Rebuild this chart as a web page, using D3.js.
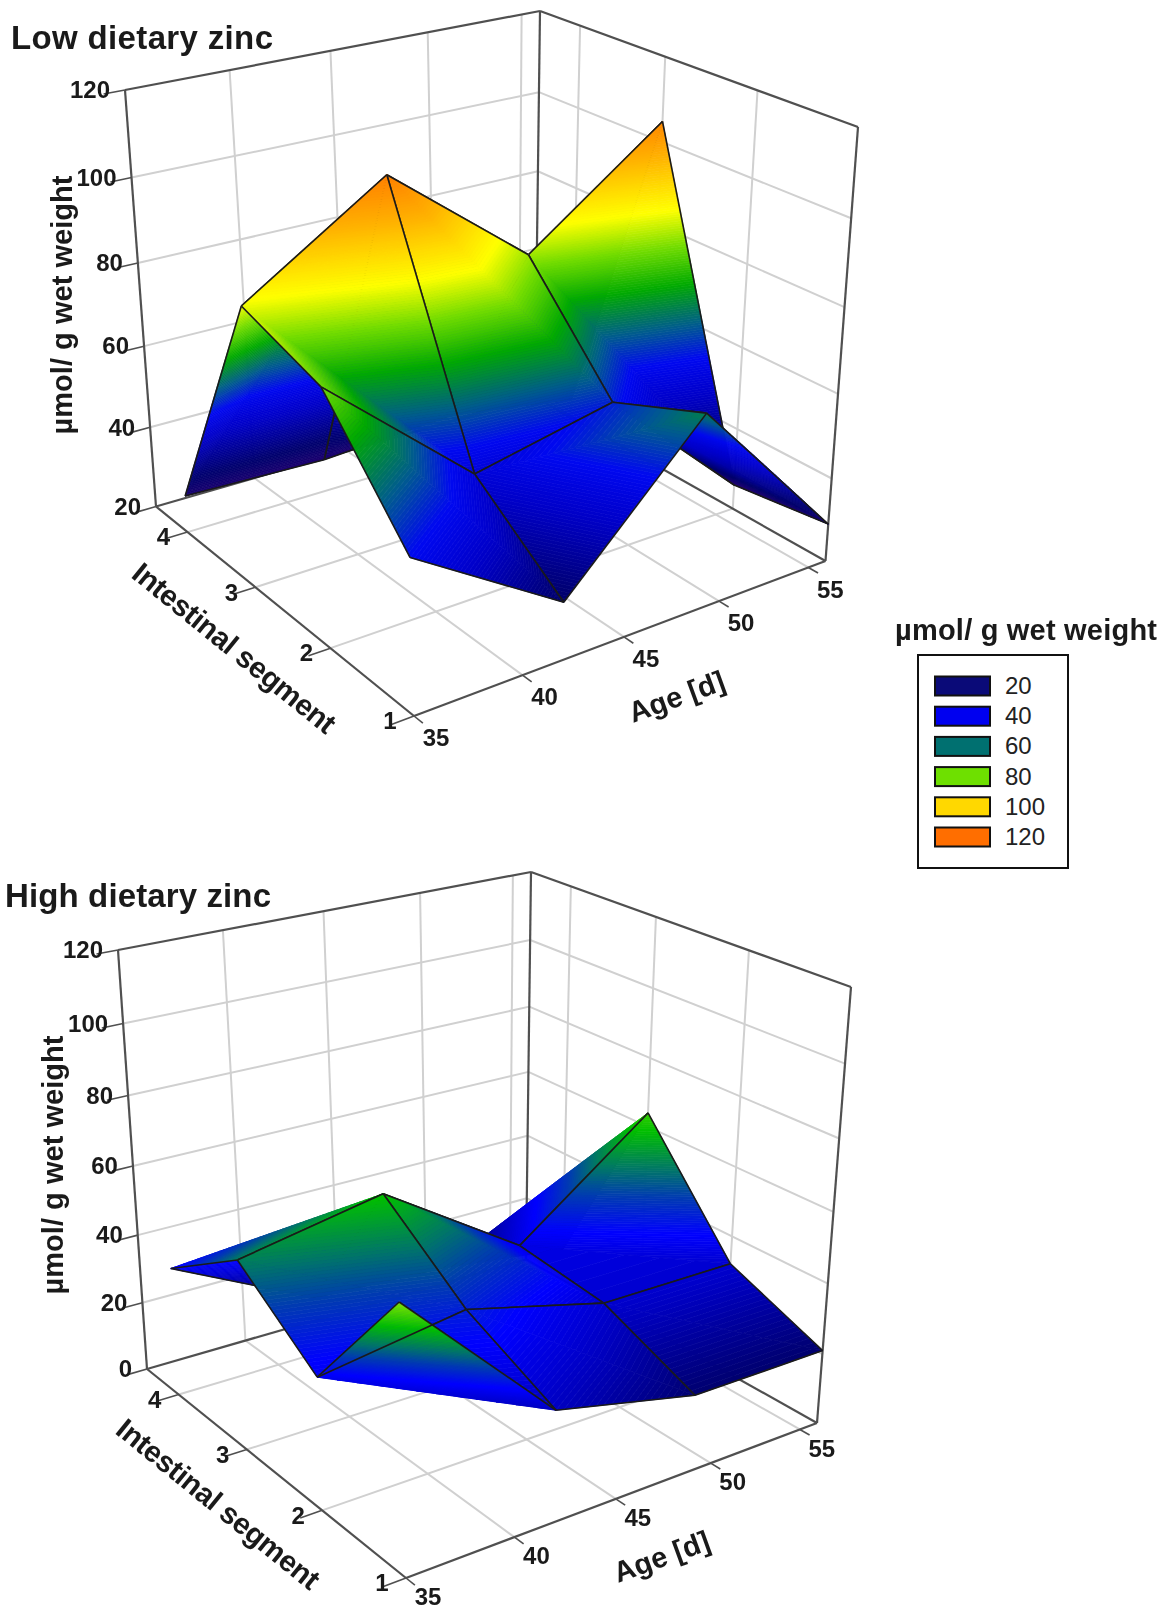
<!DOCTYPE html><html><head><meta charset="utf-8"><script src="https://cdn.jsdelivr.net/npm/d3@7"></script>
<style>html,body{margin:0;background:#fff}svg{display:block;filter:blur(0.55px)}</style></head><body><svg id="c" width="1168" height="1609"></svg>
<script>
const ages=[35,42,49,56], segs=[1,2,3,4];
const ageTicks=[35,40,45,50,55], segTicks=[1,2,3,4];
const lowZTicks=[20,40,60,80,100,120], highZTicks=[0,20,40,60,80,100,120];
const legendValues=[20,40,60,80,100,120];
const legendColors=["#0a0a78","#0000f0","#007070","#6ee000","#ffd800","#ff6e00"];
// one row per intestinal segment, one value per age
const lowSeg1=[54,33,65,29], lowSeg2=[78,49,56,26], lowSeg3=[85,106.5,80.5,104.8], lowSeg4=[29,28,30,25];
const highSeg1=[70,30,21,21], highSeg2=[36,42,32,32], highSeg3=[53,60.5,35,64], highSeg4=[37,17,15,10];
const lowStops=[28,34,46,54,61,70,78,86,98,108];
const lowStopColors=["#1e0070","#00006e","#0000c8","#0008f0","#005a90","#00aa00","#70dc00","#ffff00","#ffae00","#ff7800"];
const highStops=[15,21,30,38,46,52,60,70];
const highStopColors=["#00005a","#00006e","#0000c0","#0000ff","#003cb0","#007864","#00be00","#82e600"];
const segMax=4.5;
const svg=d3.select("#c");
function homog(p){const [p0,p1,p2,p3]=p;const dx1=p1[0]-p2[0],dx2=p3[0]-p2[0],dx3=p0[0]-p1[0]+p2[0]-p3[0],dy1=p1[1]-p2[1],dy2=p3[1]-p2[1],dy3=p0[1]-p1[1]+p2[1]-p3[1];
 const den=dx1*dy2-dx2*dy1,g=(dx3*dy2-dx2*dy3)/den,h=(dx1*dy3-dx3*dy1)/den;
 const a=p1[0]-p0[0]+g*p1[0],b=p3[0]-p0[0]+h*p3[0],c=p0[0],d=p1[1]-p0[1]+g*p1[1],e=p3[1]-p0[1]+h*p3[1],f=p0[1];
 return (u,v)=>{const w=g*u+h*v+1;return [(a*u+b*v+c)/w,(d*u+e*v+f)/w];};}
function panel(cfg){
 const U=d3.scaleLinear().domain([35,56]).range([0,1]),V=d3.scaleLinear().domain([1,segMax]).range([0,1]),W=d3.scaleLinear().domain(cfg.zDomain).range([0,1]);
 const F=homog([cfg.FB,cfg.RB,cfg.BB,cfg.LB]),C=homog([cfg.FT,cfg.RT,cfg.BT,cfg.LT]),k=1.065;
 const proj=(a,s,z)=>{const u=U(a),v=V(s),w=W(z),t=w/(w+k*(1-w));const f=F(u,v),c=C(u,v);return [f[0]+(c[0]-f[0])*t,f[1]+(c[1]-f[1])*t];};
 return {proj,zTicks:cfg.zTicks,cfg};
}
const lineG=d3.line();
function draw(P,Z,colorZ){
 const {proj,zTicks,cfg}=P;const zlo=cfg.zDomain[0],zhi=cfg.zDomain[1];
 const g=svg.append("g");
 const seg=(A,B,col,w)=>g.append("path").attr("d",lineG([proj(...A),proj(...B)])).attr("stroke",col).attr("stroke-width",w).attr("fill","none");
 const grid="#d0d0d0",frame="#505050";
 zTicks.forEach(z=>{if(z!=zlo&&z!=zhi){seg([35,segMax,z],[56,segMax,z],grid,2);seg([56,1,z],[56,segMax,z],grid,2);}});
 ageTicks.slice(1).forEach(a=>{seg([a,segMax,zlo],[a,segMax,zhi],grid,2);seg([a,1,zlo],[a,segMax,zlo],grid,2);});
 segTicks.slice(1).forEach(s=>{seg([56,s,zlo],[56,s,zhi],grid,2);seg([35,s,zlo],[56,s,zlo],grid,2);});
 [[[35,segMax,zlo],[35,segMax,zhi]],[[56,1,zlo],[56,1,zhi]],[[56,segMax,zlo],[56,segMax,zhi]],[[35,segMax,zhi],[56,segMax,zhi]],[[56,1,zhi],[56,segMax,zhi]],[[35,1,zlo],[56,1,zlo]],[[35,1,zlo],[35,segMax,zlo]],[[35,segMax,zlo],[56,segMax,zlo]],[[56,1,zlo],[56,segMax,zlo]]].forEach(e=>seg(e[0],e[1],frame,2.2));
 ageTicks.forEach(a=>{const q=proj(a,1,zlo);seg([a,1,zlo],[a,0.9,zlo],frame,1.6);g.append("text").attr("class","tk").attr("x",q[0]+22).attr("y",q[1]+cfg.ageDy).text(a);});
 segTicks.forEach(s=>{const q=proj(35,s,zlo);seg([35,s,zlo],[34,s,zlo],frame,1.6);g.append("text").attr("class","tk").attr("x",q[0]-24).attr("y",q[1]+7).text(s);});
 zTicks.forEach(z=>{const q=proj(35,segMax,z);seg([35,segMax,z],[34,segMax,z],frame,1.6);g.append("text").attr("class","tk").attr("text-anchor","end").attr("x",q[0]-15).attr("y",q[1]+2).text(z);});
 g.selectAll(".tk").attr("font-family","Liberation Sans").attr("font-weight","bold").attr("font-size",24).attr("fill","#1a1a1a").attr("dominant-baseline","middle").filter(function(){return !this.getAttribute("text-anchor")}).attr("text-anchor","middle");
 const clip=(poly,lev,above)=>{const o=[];poly.forEach((p,i)=>{const q=poly[(i+1)%poly.length];const a=above?p[2]>=lev:p[2]<=lev,b=above?q[2]>=lev:q[2]<=lev;if(a)o.push(p);if(a!==b){const t=(lev-p[2])/(q[2]-p[2]);o.push([p[0]+t*(q[0]-p[0]),p[1]+t*(q[1]-p[1]),lev]);}});return o;};
 const step=0.5;
 const tri=(A,B,Cc,gg)=>{const mn=Math.floor(Math.min(A[2],B[2],Cc[2])),mx=Math.ceil(Math.max(A[2],B[2],Cc[2]));const bands=[];for(let l=mn;l<mx;l+=step){let p=clip([A,B,Cc],l,true);p=p.length?clip(p,l+step,false):p;if(p.length>2)bands.push({l,p});}
  gg.selectAll(null).data(bands).enter().append("polygon").attr("points",d=>d.p.map(q=>proj(...q).map(v=>v.toFixed(2)).join(",")).join(" ")).attr("fill",d=>colorZ(d.l+step/2)).attr("stroke",d=>colorZ(d.l+step/2)).attr("stroke-width",.7);};
 for(let i=2;i>=0;i--)for(let j=2;j>=0;j--){const v=(ii,jj)=>[ages[ii],segs[jj],Z[jj][ii]];const gg=g.append("g");
  tri(v(i,j+1),v(i+1,j),v(i+1,j+1),gg);tri(v(i,j+1),v(i+1,j),v(i,j),gg);
  [[v(i,j),v(i+1,j)],[v(i+1,j),v(i+1,j+1)],[v(i+1,j+1),v(i,j+1)],[v(i,j+1),v(i,j)]].forEach(e=>gg.append("path").attr("d",lineG([proj(...e[0]),proj(...e[1])])).attr("stroke","#1a1a1a").attr("stroke-width",1.6).attr("fill","none"));}
}
const txt=(s,x,y,sz,rot,len,wt)=>{const t=svg.append("text").attr("font-family","Liberation Sans").attr("font-weight",wt||"bold").attr("font-size",sz).attr("fill","#1a1a1a").attr("text-anchor","middle").attr("transform",`translate(${x},${y}) rotate(${rot||0})`).text(s);if(len)t.attr("textLength",len);return t;};
const low=panel({zDomain:[20,120],zTicks:lowZTicks,ageDy:24,LB:[156,506.5],FB:[414,716],RB:[825.5,561],BB:[535,397],LT:[125,90],BT:[540,11],RT:[858,127],FT:[402,230]});
const high=panel({zDomain:[0,120],zTicks:highZTicks,ageDy:21,LB:[147,1369],FB:[406,1578],RB:[817,1423],BB:[526,1259.5],LT:[118,950],BT:[531,872],RT:[851,987],FT:[394,1092]});
draw(low,[lowSeg1,lowSeg2,lowSeg3,lowSeg4],d3.scaleLinear().domain(lowStops).range(lowStopColors).clamp(true));
draw(high,[highSeg1,highSeg2,highSeg3,highSeg4],d3.scaleLinear().domain(highStops).range(highStopColors).clamp(true));
txt("Low dietary zinc",142,49,33,0,262);txt("High dietary zinc",138,907,33,0,266);
const um="\u00b5mol/ g wet weight";
txt(um,72,305,29,-90,259);txt(um,63,1165,29,-90,259);
txt("Intestinal segment",228,656,29.5,39,252);txt("Intestinal segment",212,1512,29.5,39,252);
txt("Age [d]",680,706,29,-20,100);txt("Age [d]",665,1566,29,-20,100);
txt(um,1026,640,29,0,262);
svg.append("rect").attr("x",918).attr("y",655).attr("width",150).attr("height",213).attr("fill","#fff").attr("stroke","#111").attr("stroke-width",2);
legendValues.forEach((v,i)=>{const y=d3.scaleLinear().domain([0,5]).range([686,837])(i);svg.append("rect").attr("x",935).attr("y",y-9.5).attr("width",55).attr("height",19).attr("fill",legendColors[i]).attr("stroke","#111").attr("stroke-width",2);
 svg.append("text").attr("x",1005).attr("y",y+8).attr("font-family","Liberation Sans").attr("font-size",24).attr("fill","#222").text(v);});
</script></body></html>
